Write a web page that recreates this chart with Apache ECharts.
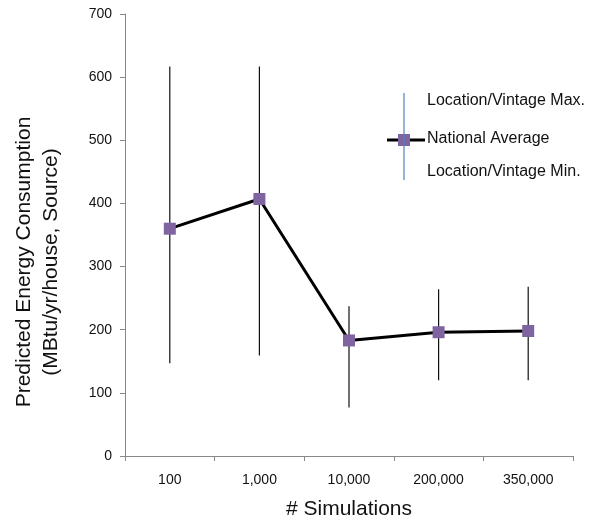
<!DOCTYPE html>
<html>
<head>
<meta charset="utf-8">
<script src="https://cdn.jsdelivr.net/npm/echarts@6/dist/echarts.min.js"></script>
<style>
  html, body { margin: 0; padding: 0; background: #fff; }
  #main { width: 602px; height: 525px; }
</style>
</head>
<body>
<div id="main"></div>
<script>
var categories = ['100', '1,000', '10,000', '200,000', '350,000'];
var avgValues = [360, 407, 183, 196, 198];
var maxValues = [617, 617, 237, 264, 268];
var minValues = [147, 159, 77, 120, 120];
var yTicks = [0, 100, 200, 300, 400, 500, 600, 700];

var FONT = '"Liberation Sans", Arial, sans-serif';

(function() {
  var chart = echarts.init(document.getElementById('main'));

  var barData = [];
  for (var i = 0; i < categories.length; i++) {
    barData.push([i, minValues[i], maxValues[i]]);
  }

  var option = {
    animation: false,
    grid: { left: 125, right: 29, top: 14, bottom: 67 },
    xAxis: {
      type: 'category',
      data: categories,
      boundaryGap: true,
      name: '# Simulations',
      nameLocation: 'middle',
      nameGap: 43,
      nameTextStyle: { fontFamily: FONT, fontSize: 21, color: '#111' },
      axisLine: { lineStyle: { color: '#888', width: 1 } },
      axisTick: { show: true, length: 5, lineStyle: { color: '#888' } },
      axisLabel: { fontFamily: FONT, fontSize: 14, color: '#111', margin: 17 },
      splitLine: { show: false }
    },
    yAxis: {
      type: 'value',
      min: yTicks[0],
      max: yTicks[yTicks.length - 1],
      interval: 100,
      axisLine: { show: true, lineStyle: { color: '#888', width: 1 } },
      axisTick: { show: true, length: 5, lineStyle: { color: '#888' } },
      axisLabel: { fontFamily: FONT, fontSize: 14, color: '#111', margin: 13 },
      splitLine: { show: false }
    },
    series: [
      {
        name: 'Location/Vintage Range',
        type: 'custom',
        data: barData,
        z: 1,
        renderItem: function(params, api) {
          var top = api.coord([api.value(0), api.value(2)]);
          var bottom = api.coord([api.value(0), api.value(1)]);
          return {
            type: 'line',
            shape: { x1: top[0], y1: top[1], x2: bottom[0], y2: bottom[1] },
            style: { stroke: '#111', lineWidth: 1.2 }
          };
        }
      },
      {
        name: 'National Average',
        type: 'line',
        data: avgValues,
        z: 3,
        symbol: 'rect',
        symbolSize: 12,
        showAllSymbol: true,
        lineStyle: { color: '#000', width: 3 },
        itemStyle: { color: '#8064A2', borderWidth: 0 }
      }
    ],
    graphic: [
      // y axis title, two lines
      {
        type: 'text', x: 24, y: 262, rotation: Math.PI / 2,
        style: { text: 'Predicted Energy Consumption', font: '21px ' + FONT, fill: '#111',
                 textAlign: 'center', textVerticalAlign: 'middle' }
      },
      {
        type: 'text', x: 51, y: 262, rotation: Math.PI / 2,
        style: { text: '(MBtu/yr/house, Source)', font: '21px ' + FONT, fill: '#111',
                 textAlign: 'center', textVerticalAlign: 'middle' }
      },
      // legend
      {
        type: 'line', shape: { x1: 404, y1: 93, x2: 404, y2: 180 },
        style: { stroke: '#4f81bd', lineWidth: 1.2 }
      },
      {
        type: 'line', shape: { x1: 387, y1: 140, x2: 425, y2: 140 },
        style: { stroke: '#000', lineWidth: 3 }
      },
      {
        type: 'rect', shape: { x: 398, y: 134, width: 12, height: 12 },
        style: { fill: '#8064A2' }
      },
      {
        type: 'line', shape: { x1: 404, y1: 134, x2: 404, y2: 146 },
        style: { stroke: '#4f81bd', lineWidth: 1.2 }
      },
      {
        type: 'text', x: 427, y: 101,
        style: { text: 'Location/Vintage Max.', font: '16px ' + FONT, fill: '#111', textVerticalAlign: 'middle' }
      },
      {
        type: 'text', x: 427, y: 139,
        style: { text: 'National Average', font: '16px ' + FONT, fill: '#111', textVerticalAlign: 'middle' }
      },
      {
        type: 'text', x: 427, y: 172,
        style: { text: 'Location/Vintage Min.', font: '16px ' + FONT, fill: '#111', textVerticalAlign: 'middle' }
      }
    ]
  };

  chart.setOption(option);
})();
</script>
</body>
</html>
